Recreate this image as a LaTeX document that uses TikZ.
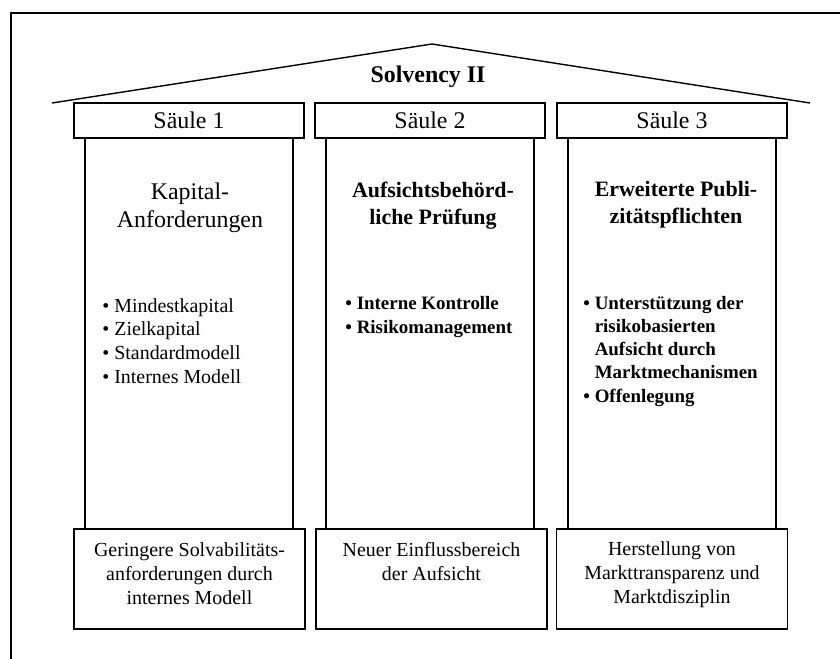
\documentclass[tikz,border=0pt]{standalone}
\usepackage{fontspec}
\setmainfont{Liberation Serif}
\usetikzlibrary{positioning}

\begin{document}
\begin{tikzpicture}[x=0.5bp, y=-0.5bp,
    box/.style={draw, line width=0.75pt, outer sep=0pt, inner sep=0pt},
    capbox/.style={box, minimum width=115bp, minimum height=17.5bp, font=\fontsize{12}{14}\selectfont},
    colbox/.style={box, minimum width=104bp, minimum height=195.5bp},
    basebox/.style={box, minimum width=115.5bp, minimum height=50bp},
    head/.style={align=center, anchor=base, inner sep=0pt},
    items/.style={align=left, anchor=base west, inner sep=0pt},
    basetext/.style={align=center, anchor=base, inner sep=0pt, font=\fontsize{10}{11.8}\selectfont}]
  \useasboundingbox (0,0) rectangle (840,659);

  % Frame
  \draw[line width=1pt] (11,700) -- (11,13) -- (880,13);

  % Roof
  \draw[line width=0.7pt] (52,103) -- (432,44) -- (810,103);
  \node[anchor=base, inner sep=0pt, font=\fontsize{12}{14}\selectfont\bfseries] (title) at (428,83) {Solvency II};

  % Pillar 1 (base anchor = last line)
  \node[capbox] (cap1) at (189,120.5) {Säule 1};
  \node[colbox] (col1) at (189,333.5) {};
  \node[basebox] (base1) at (189.5,579) {};
  \node[head, font=\fontsize{12}{14.5}\selectfont] (head1) at (190,228) {Kapital-\\Anforderungen};
  \node[items, font=\fontsize{10}{11.8}\selectfont] (items1) at (102,383)
    {\textbullet\ Mindestkapital\\\textbullet\ Zielkapital\\\textbullet\ Standardmodell\\\textbullet\ Internes Modell};
  \node[basetext] (text1) at (189.5,604) {Geringere Solvabilitäts-\\anforderungen durch\\internes Modell};

  % Pillar 2
  \node[capbox] (cap2) at (430,120.5) {Säule 2};
  \node[colbox] (col2) at (430,333.5) {};
  \node[basebox] (base2) at (431.5,579) {};
  \node[head, font=\fontsize{11}{14}\selectfont\bfseries] (head2) at (433,225) {Aufsichtsbehörd-\\liche Prüfung};
  \node[items, font=\fontsize{9.5}{11.6}\selectfont\bfseries] (items2) at (345,333)
    {\textbullet\ Interne Kontrolle\\\textbullet\ Risikomanagement};
  \node[basetext] (text2) at (431.5,580) {Neuer Einflussbereich\\der Aufsicht};

  % Pillar 3
  \node[capbox] (cap3) at (672,120.5) {Säule 3};
  \node[colbox] (col3) at (672,333.5) {};
  \node[basebox] (base3) at (672,579) {};
  \node[head, font=\fontsize{11}{14}\selectfont\bfseries] (head3) at (676,224) {Erweiterte Publi-\\zitätspflichten};
  \node[items, font=\fontsize{9.5}{11.6}\selectfont\bfseries] (items3) at (583,402)
    {\textbullet\ Unterstützung der\\\phantom{\textbullet\ }risikobasierten\\\phantom{\textbullet\ }Aufsicht durch\\\phantom{\textbullet\ }Marktmechanismen\\\textbullet\ Offenlegung};
  \node[basetext] (text3) at (672,603) {Herstellung von\\Markttransparenz und\\Marktdisziplin};
\end{tikzpicture}
\end{document}
